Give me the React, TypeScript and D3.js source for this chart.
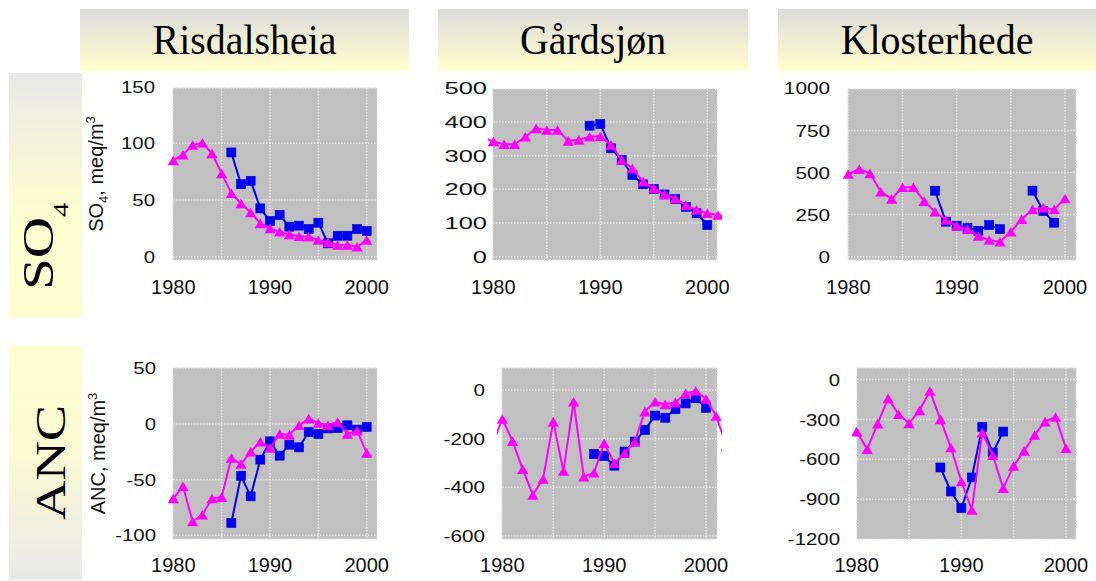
import React from "react";
import * as d3 from "d3";

// ---------- data ----------
const SITES = ["Risdalsheia", "Gårdsjøn", "Klosterhede"];
const ROWS = ["SO4", "ANC"];

const YEARS_80_00 = [1980, 1981, 1982, 1983, 1984, 1985, 1986, 1987, 1988, 1989, 1990, 1991, 1992, 1993, 1994, 1995, 1996, 1997, 1998, 1999, 2000];
const YEARS_79_02 = [1979, 1980, 1981, 1982, 1983, 1984, 1985, 1986, 1987, 1988, 1989, 1990, 1991, 1992, 1993, 1994, 1995, 1996, 1997, 1998, 1999, 2000, 2001, 2002];
const RIS_OBS_YEARS = [1986, 1987, 1988, 1989, 1990, 1991, 1992, 1993, 1994, 1995, 1996, 1997, 1998, 1999, 2000];
const GAR_OBS_YEARS = [1989, 1990, 1991, 1992, 1993, 1994, 1995, 1996, 1997, 1998, 1999, 2000];
const KLO_SO4_OBS_YEARS = [1988, 1989, 1990, 1991, 1992, 1993, 1994, 1995, 1996, 1997, 1998, 1999];
const KLO_ANC_OBS_YEARS = [1988, 1989, 1990, 1991, 1992, 1993, 1994];

// SO4 (meq/m3)
const RIS_SO4_MODEL = [85, 90, 98.5, 100.6, 91, 73.5, 56, 47, 39, 29.4, 25, 22, 19.7, 18, 17.6, 14.7, 12.6, 10.3, 10.3, 8.8, 14.7];
const RIS_SO4_OBS = [92, 64, 67, 42.6, 31.5, 36.8, 26.5, 27.4, 24.4, 30, 11.8, 18.5, 18.5, 24.4, 22.6];
const GAR_SO4_MODEL = [355, 342, 334, 334, 356, 381, 376, 376, 344, 347, 356, 358, 332, 287, 262, 223, 203, 185, 173, 153, 139, 129, 124, 118];
const GAR_SO4_OBS = [389, 394, 322, 287, 243, 215, 201, 185, 171, 148, 129, 94];
const KLO_SO4_MODEL = [491, 520, 495, 386, 343, 412, 412, 330, 267, 218, 184, 164, 123, 99, 89, 148, 222, 281, 291, 281, 346];
const KLO_SO4_OBS: (number | null)[] = [392, 208, 184, 172, 154, 188, 164, null, null, 392, 271, 202];

// ANC (meq/m3)
const RIS_ANC_MODEL = [-67, -56, -87.6, -81.6, -67, -65.7, -30.6, -36, -25, -16, -21.6, -9, -9.6, -1.2, 4.8, 0.9, -1.2, 1.8, -9, -6, -26];
const RIS_ANC_OBS = [-89, -46.5, -65, -32, -15.6, -28.5, -18.6, -21, -7.2, -9, -4, -3.6, -1.2, -5, -2.7];
const GAR_ANC_MODEL = [-230, -119, -210, -325, -431, -366, -130, -333, -48, -356, -340, -219, -301, -260, -212, -89, -48, -59, -51, -14, -4, -37, -107, -230];
const GAR_ANC_OBS = [-263, -271, -311, -253, -212, -164, -105, -114, -79, -55, -34, -73];
const KLO_ANC_MODEL = [-392, -525, -332, -142, -262, -330, -232, -87, -300, -512, -767, -982, -400, -570, -817, -650, -537, -417, -317, -282, -517];
const KLO_ANC_OBS = [-662, -842, -967, -737, -357, -550, -392];

// ticks
const X_TICKS = [1980, 1990, 2000];
const X_GRID = [1985, 1990, 1995, 2000];
const RIS_SO4_TICKS = [0, 50, 100, 150];
const GAR_SO4_TICKS = [0, 100, 200, 300, 400, 500];
const KLO_SO4_TICKS = [0, 250, 500, 750, 1000];
const RIS_ANC_TICKS = [-100, -50, 0, 50];
const GAR_ANC_TICKS = [-600, -400, -200, 0];
const KLO_ANC_TICKS = [-1200, -900, -600, -300, 0];

type Pt = [number, number | null];
const zip = (ys: number[], vs: (number | null)[]): Pt[] => ys.map((y, i) => [y, vs[i]]);

const MAGENTA = "#ff00ff";
const BLUE = "#0000ff";
const SANS = "'Liberation Sans', Arial, sans-serif";
const SERIF = "'Liberation Serif', 'Times New Roman', serif";

interface PanelCfg {
  id: string;
  rect: [number, number, number, number]; // x0,x1,y0,y1
  xr: [number, number];
  yd: [number, number];
  yr: [number, number];
  ticks: number[];
  labelRight: number;
  labelSX: number;
  xLabelY: number;
  model: Pt[];
  obs: Pt[];
  title?: "SO4" | "ANC";
  titleX?: number;
}

const PANELS: PanelCfg[] = [
  { id: "p1", rect: [173, 377, 88, 260], xr: [173.3, 366.7], yd: [0, 150], yr: [256.7, 86.7], ticks: RIS_SO4_TICKS, labelRight: 155, labelSX: 1.2, xLabelY: 294, model: zip(YEARS_80_00, RIS_SO4_MODEL), obs: zip(RIS_OBS_YEARS, RIS_SO4_OBS), title: "SO4", titleX: 103 },
  { id: "p2", rect: [493, 717, 89, 260], xr: [493.3, 707.3], yd: [0, 500], yr: [256.7, 88.3], ticks: GAR_SO4_TICKS, labelRight: 487, labelSX: 1.5, xLabelY: 294, model: zip(YEARS_79_02, GAR_SO4_MODEL), obs: zip(GAR_OBS_YEARS, GAR_SO4_OBS) },
  { id: "p3", rect: [848, 1076, 89, 260], xr: [848.3, 1065], yd: [0, 1000], yr: [256.7, 88.3], ticks: KLO_SO4_TICKS, labelRight: 830, labelSX: 1.22, xLabelY: 294, model: zip(YEARS_80_00, KLO_SO4_MODEL), obs: zip(KLO_SO4_OBS_YEARS, KLO_SO4_OBS) },
  { id: "p4", rect: [173, 377, 368, 539], xr: [173.3, 366.7], yd: [-100, 50], yr: [535.3, 368.3], ticks: RIS_ANC_TICKS, labelRight: 156, labelSX: 1.2, xLabelY: 572, model: zip(YEARS_80_00, RIS_ANC_MODEL), obs: zip(RIS_OBS_YEARS, RIS_ANC_OBS), title: "ANC", titleX: 105 },
  { id: "p5", rect: [502, 717, 368, 539], xr: [502.3, 706], yd: [-600, 0], yr: [536, 390], ticks: GAR_ANC_TICKS, labelRight: 485, labelSX: 1.22, xLabelY: 572, model: zip(YEARS_79_02, GAR_ANC_MODEL), obs: zip(GAR_OBS_YEARS, GAR_ANC_OBS) },
  { id: "p6", rect: [857, 1076, 368, 539], xr: [856.7, 1066], yd: [-1200, 0], yr: [539, 379.5], ticks: KLO_ANC_TICKS, labelRight: 840, labelSX: 1.2, xLabelY: 572, model: zip(YEARS_80_00, KLO_ANC_MODEL), obs: zip(KLO_ANC_OBS_YEARS, KLO_ANC_OBS) },
];

const TRI = "M0,-4.8L5.6,4.8L-5.6,4.8Z";

function Panel({ c }: { c: PanelCfg }) {
  const x = d3.scaleLinear().domain([1980, 2000]).range(c.xr);
  const y = d3.scaleLinear().domain(c.yd).range(c.yr);
  const line = d3
    .line<Pt>()
    .defined((d) => d[1] != null)
    .x((d) => x(d[0]))
    .y((d) => y(d[1] as number));
  const [x0, x1, y0, y1] = c.rect;
  const clipId = `clip-${c.id}`;
  const obsPts = c.obs.filter((d) => d[1] != null);
  const modPts = c.model.filter((d) => d[1] != null);
  const midY = (y0 + y1) / 2;
  return (
    <g>
      <defs>
        <clipPath id={clipId}>
          <rect x={x0 - 5} y={y0 - 6} width={x1 - x0 + 10} height={y1 - y0 + 12} />
        </clipPath>
      </defs>
      <rect x={x0} y={y0} width={x1 - x0} height={y1 - y0} fill="#c0c0c0" stroke="#dcdcdc" strokeWidth={1.5} strokeDasharray="1.5,1.5" />
      {X_GRID.filter((g) => x(g) > x0 + 2 && x(g) < x1 - 2).map((g) => (
        <line key={"v" + g} x1={x(g)} x2={x(g)} y1={y0} y2={y1} stroke="#e4e4e4" strokeWidth={1.5} strokeDasharray="1.5,1.5" />
      ))}
      {c.ticks.filter((t) => y(t) > y0 + 2 && y(t) < y1 - 2).map((t) => (
        <line key={"h" + t} x1={x0} x2={x1} y1={y(t)} y2={y(t)} stroke="#e4e4e4" strokeWidth={1.5} strokeDasharray="1.5,1.5" />
      ))}
      <g clipPath={`url(#${clipId})`}>
        <path d={line(c.obs) || ""} fill="none" stroke={BLUE} strokeWidth={2} />
        {obsPts.map((d, i) => (
          <rect key={"s" + i} x={x(d[0]) - 4.5} y={y(d[1] as number) - 4.5} width={9} height={9} fill={BLUE} stroke="#0000b0" strokeWidth={0.6} />
        ))}
        <path d={line(c.model) || ""} fill="none" stroke={MAGENTA} strokeWidth={2} />
        {modPts.map((d, i) => (
          <path key={"t" + i} d={TRI} transform={`translate(${x(d[0])},${y(d[1] as number)})`} fill={MAGENTA} />
        ))}
      </g>
      {c.ticks.map((t) => (
        <text key={"yl" + t} transform={`translate(${c.labelRight},${y(t)}) scale(${c.labelSX},1)`} textAnchor="end" dy="0.36em" fontFamily={SANS} fontSize={17} fill="#111">
          {t}
        </text>
      ))}
      {X_TICKS.map((t) => (
        <text key={"xl" + t} x={x(t)} y={c.xLabelY} textAnchor="middle" fontFamily={SANS} fontSize={20} fill="#111">
          {t}
        </text>
      ))}
      {c.title === "SO4" && (
        <text transform={`translate(${c.titleX},${midY}) rotate(-90)`} textAnchor="middle" fontFamily={SANS} fontSize={20} fill="#111">
          SO<tspan fontSize={13} dy={5}>4</tspan>
          <tspan dy={-5}>, meq/m</tspan>
          <tspan fontSize={13} dy={-8}>3</tspan>
        </text>
      )}
      {c.title === "ANC" && (
        <text transform={`translate(${c.titleX},${midY}) rotate(-90)`} textAnchor="middle" fontFamily={SANS} fontSize={20} fill="#111">
          ANC, meq/m<tspan fontSize={13} dy={-8}>3</tspan>
        </text>
      )}
    </g>
  );
}

const HEADER_BOXES: [number, number][] = [
  [80, 409],
  [438, 748],
  [778, 1096],
];

export default function App() {
  return (
    <svg width={1096} height={581} style={{ position: "absolute", left: 0, top: 0, background: "#fff" }}>
      <defs>
        <linearGradient id="gHead" x1="0" y1="0" x2="0" y2="1">
          <stop offset="0%" stopColor="#dcdcdc" />
          <stop offset="100%" stopColor="#ffffcc" />
        </linearGradient>
        <linearGradient id="gSO4" x1="0" y1="0" x2="0" y2="1">
          <stop offset="0%" stopColor="#e8e8e8" />
          <stop offset="55%" stopColor="#fdfdd2" />
          <stop offset="100%" stopColor="#ffffd0" />
        </linearGradient>
        <linearGradient id="gANC" x1="0" y1="0" x2="0" y2="1">
          <stop offset="0%" stopColor="#ffffd0" />
          <stop offset="45%" stopColor="#fbfbd4" />
          <stop offset="100%" stopColor="#e8e8e8" />
        </linearGradient>
      </defs>
      <rect x={0} y={0} width={1096} height={581} fill="#fff" />
      {HEADER_BOXES.map(([a, b], i) => (
        <g key={SITES[i]}>
          <rect x={a} y={9} width={b - a} height={62} fill="url(#gHead)" />
          <text transform={`translate(${(a + b) / 2},54) scale(0.95,1)`} textAnchor="middle" fontFamily={SERIF} fontSize={42} fill="#000">
            {SITES[i]}
          </text>
        </g>
      ))}
      <rect x={9} y={73} width={73} height={245} fill="url(#gSO4)" />
      <rect x={9} y={346} width={73} height={234} fill="url(#gANC)" />
      <g transform="translate(53,290) rotate(-90) scale(1.3,1)">
        <text x={0} y={0} fontFamily={SERIF} fontSize={44} fill="#000">
          {ROWS[0].slice(0, 2)}
          <tspan fontSize={22} dy={15}>{ROWS[0].slice(2)}</tspan>
        </text>
      </g>
      <g transform="translate(65,520) rotate(-90) scale(1.3,1)">
        <text x={0} y={0} fontFamily={SERIF} fontSize={42} fill="#000">
          {ROWS[1]}
        </text>
      </g>
      {PANELS.map((c) => (
        <Panel key={c.id} c={c} />
      ))}
    </svg>
  );
}
